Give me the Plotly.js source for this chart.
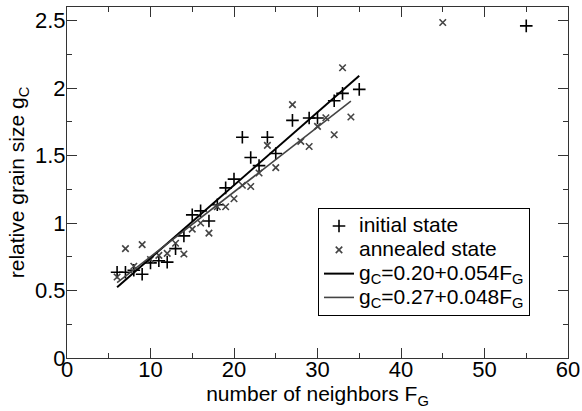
<!DOCTYPE html>
<html><head><meta charset="utf-8">
<script src="https://cdn.plot.ly/plotly-3.0.1.min.js"></script>
<style>html,body{margin:0;padding:0;background:#fff;}#plot{width:582px;height:411px;}</style>
</head><body><div id="plot"></div>
<script>
const initX = [6,7,8,9,10,11,12,13,14,15,16,17,18,19,20,21,22,23,24,25,27,29,30,32,33,35,55];
const initY = [0.635,0.635,0.65,0.62,0.705,0.72,0.71,0.81,0.905,1.06,1.09,1.015,1.135,1.26,1.325,1.635,1.485,1.425,1.635,1.515,1.76,1.778,1.778,1.906,1.96,1.99,2.46];
const annX = [6,7,8,9,10,11,12,13,14,15,16,17,18,19,20,21,22,23,24,25,27,28,29,30,31,32,33,34,45];
const annY = [0.60,0.81,0.68,0.84,0.73,0.76,0.775,0.85,0.77,0.955,1.00,0.925,1.12,1.12,1.18,1.28,1.27,1.37,1.575,1.41,1.877,1.605,1.567,1.716,1.78,1.654,2.15,1.785,2.485];
const fitInitX = [6, 35];
const fitInitY = [0.524, 2.09];
const fitAnnX = [6, 34];
const fitAnnY = [0.558, 1.902];
const names = ['initial state','annealed state','g<sub>C</sub>=0.20+0.054F<sub>G</sub>','g<sub>C</sub>=0.27+0.048F<sub>G</sub>'];
const big = s => '<span style="font-size:21px">' + s + '</span>';

const fam = 'Liberation Sans, Arial, sans-serif';
const tickFont = {family:fam, size:22, color:'#000'};
const titleFont = {family:fam, size:21, color:'#000'};
const data = [
  {x:initX, y:initY, mode:'markers', type:'scatter', name:big(names[0]),
   marker:{symbol:'cross-thin-open', size:9, color:'#000', line:{width:1.6, color:'#000'}}},
  {x:annX, y:annY, mode:'markers', type:'scatter', name:big(names[1]),
   marker:{symbol:'x-thin-open', size:6.5, color:'#444', line:{width:1.6, color:'#444'}}},
  {x:fitInitX, y:fitInitY, mode:'lines', type:'scatter', name:big(names[2]), line:{color:'#000', width:2}},
  {x:fitAnnX, y:fitAnnY, mode:'lines', type:'scatter', name:big(names[3]), line:{color:'#444', width:1.6}}
];
const axisCommon = {showgrid:false, zeroline:false, showline:true, linecolor:'#333', linewidth:1,
  mirror:'allticks', ticks:'inside', ticklen:10, tickwidth:1, tickcolor:'#333', tickfont:tickFont};
const layout = {
  width:582, height:411, margin:{l:67, r:14, t:7, b:53},
  paper_bgcolor:'#fff', plot_bgcolor:'#fff', font:tickFont, showlegend:true,
  xaxis:Object.assign({}, axisCommon, {range:[0,60], dtick:10, tick0:0, ticklabelstandoff:-8,
     minor:{ticks:'inside', ticklen:5, dtick:5, tickcolor:'#333'},
     title:{text:'number of neighbors F<sub>G</sub>', font:titleFont, standoff:0}}),
  yaxis:Object.assign({}, axisCommon, {range:[0,2.6], dtick:0.5, tick0:0, ticklabelstandoff:-4,
     minor:{ticks:'inside', ticklen:5, dtick:0.25, tickcolor:'#333'},
     title:{text:'relative grain size g<sub>C</sub>', font:titleFont, standoff:4}}),
  legend:{x:0.501, y:0.427, xanchor:'left', yanchor:'top', bgcolor:'#fff', bordercolor:'#000', borderwidth:1,
     font:{family:fam, size:16, color:'#000'}, tracegroupgap:0, itemwidth:30}
};
Plotly.newPlot('plot', data, layout, {displayModeBar:false, staticPlot:true});
</script></body></html>
